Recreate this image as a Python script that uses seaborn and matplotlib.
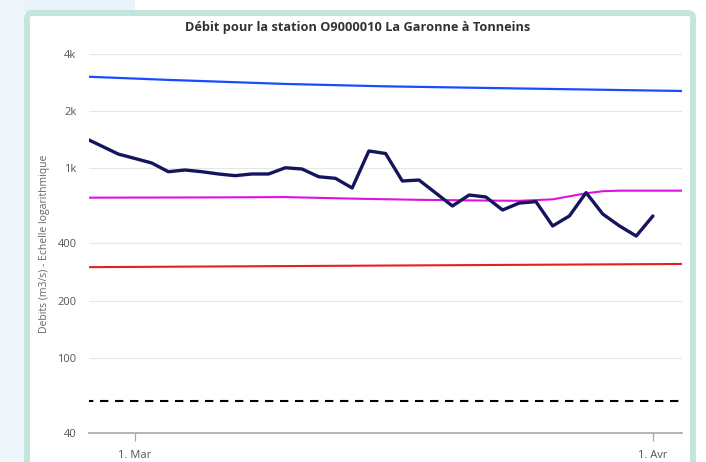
import numpy as np
import pandas as pd
import matplotlib
matplotlib.use("Agg")
import matplotlib.pyplot as plt
from matplotlib.patches import Rectangle, FancyBboxPatch
from matplotlib.ticker import FixedLocator, FixedFormatter, NullLocator
import seaborn as sns

# ---------------- data ----------------
debit_dates = pd.date_range("2024-02-27", "2024-04-01", freq="D")
debit_values = [1441, 1308, 1186, 1124, 1064, 957, 977, 957, 931, 912,
                931, 931, 1004, 989, 900, 883, 785, 1231, 1194, 855,
                865, 739, 631, 721, 704, 601, 654, 665, 495, 559,
                742, 572, 495, 438, 559]

blue_dates = pd.to_datetime(["2024-02-27", "2024-03-03", "2024-03-10", "2024-03-16",
                             "2024-03-23", "2024-03-29", "2024-04-03"])
blue_values = [3040, 2920, 2780, 2700, 2640, 2590, 2550]

magenta_dates = pd.to_datetime(["2024-02-27", "2024-03-05", "2024-03-10", "2024-03-14",
                                "2024-03-18", "2024-03-22", "2024-03-24", "2024-03-26",
                                "2024-03-28", "2024-03-29", "2024-03-30", "2024-04-03"])
magenta_values = [698, 700, 703, 690, 680, 674, 672, 684, 736, 755, 760, 760]

red_dates = pd.to_datetime(["2024-02-27", "2024-03-16", "2024-04-03"])
red_values = [300, 306, 312]

dash_dates = pd.to_datetime(["2024-02-27", "2024-04-03"])
dash_values = [59, 59]

y_ticks = [40, 100, 200, 400, 1000, 2000, 4000]
y_tick_labels = ["40", "100", "200", "400", "1k", "2k", "4k"]
x_ticks = pd.to_datetime(["2024-03-01", "2024-04-01"])
x_tick_labels = ["1. Mar", "1. Avr"]

title = "Débit pour la station O9000010 La Garonne à Tonneins"
ylabel = "Debits (m3/s) - Echelle logarithmique"

# ---------------- figure ----------------
sns.set_theme(style="white")
plt.rcParams["font.family"] = ["Open Sans", "DejaVu Sans"]

W, H = 706, 462
fig = plt.figure(figsize=(W / 100, H / 100), dpi=100)
fig.patch.set_facecolor("white")

# background decorations (pixel -> inches)
inch = fig.dpi_scale_trans
fig.add_artist(Rectangle((0, (H - 12) / 100), 135 / 100, 12 / 100,
                         transform=inch, facecolor="#e9f3fa", edgecolor="none", zorder=-3))
fig.add_artist(Rectangle((0, 0), 24 / 100, H / 100,
                         transform=inch, facecolor="#eef6fb", edgecolor="none", zorder=-3))
frame = FancyBboxPatch((27 / 100, -0.2), (693 - 27) / 100, (H - 13) / 100 + 0.2,
                       boxstyle="round,pad=0,rounding_size=0.05",
                       transform=inch, facecolor="white", edgecolor="#c3e5db",
                       linewidth=6 * 0.72, zorder=-2)
fig.add_artist(frame)

left, right, top, bottom = 89, 682, 54, 433
ax = fig.add_axes([left / W, 1 - bottom / H, (right - left) / W, (bottom - top) / H])
ax.set_facecolor("none")

sns.lineplot(x=dash_dates, y=dash_values, ax=ax, color="black", linewidth=1.5,
             linestyle=(0, (4, 3.2)), zorder=3)
sns.lineplot(x=red_dates, y=red_values, ax=ax, color="#e3201b", linewidth=1.5, zorder=3)
sns.lineplot(x=magenta_dates, y=magenta_values, ax=ax, color="#e010e0", linewidth=1.5, zorder=3)
sns.lineplot(x=blue_dates, y=blue_values, ax=ax, color="#1a4cff", linewidth=1.6, zorder=3)
sns.lineplot(x=debit_dates, y=debit_values, ax=ax, color="#15155e", linewidth=2.4,
             zorder=4, solid_joinstyle="round", solid_capstyle="round")

ax.set_yscale("log")
ax.set_ylim(40, 4000)
ax.yaxis.set_major_locator(FixedLocator(y_ticks))
ax.yaxis.set_major_formatter(FixedFormatter(y_tick_labels))
ax.yaxis.set_minor_locator(NullLocator())

x0 = pd.Timestamp("2024-03-01") - pd.Timedelta(days=2.75)
x1 = pd.Timestamp("2024-03-01") + pd.Timedelta(days=32.74)
ax.set_xlim(x0, x1)
ax.set_xticks(x_ticks)
ax.set_xticklabels(x_tick_labels)

ax.grid(axis="y", color="#e6e6e6", linewidth=0.8, zorder=0)
ax.grid(axis="x", visible=False)
for s in ["left", "right", "top"]:
    ax.spines[s].set_visible(False)
ax.spines["bottom"].set_color("#a8a8a8")
ax.spines["bottom"].set_linewidth(1.2)
ax.tick_params(axis="x", bottom=True, length=6, width=0.9, color="#a8a8a8",
               labelsize=8, labelcolor="#555555", pad=6)
ax.tick_params(axis="y", left=False, length=0, labelsize=8, labelcolor="#555555", pad=9)

ax.set_xlabel("")
ax.set_ylabel(ylabel, fontsize=7.5, color="#666666")
ax.yaxis.set_label_coords(-0.066, 0.5)

fig.text(358 / W, 1 - 27 / H, title, ha="center", va="center",
         fontsize=9.2, fontweight="bold", color="#333333")

fig.savefig("out.png", dpi=100)
